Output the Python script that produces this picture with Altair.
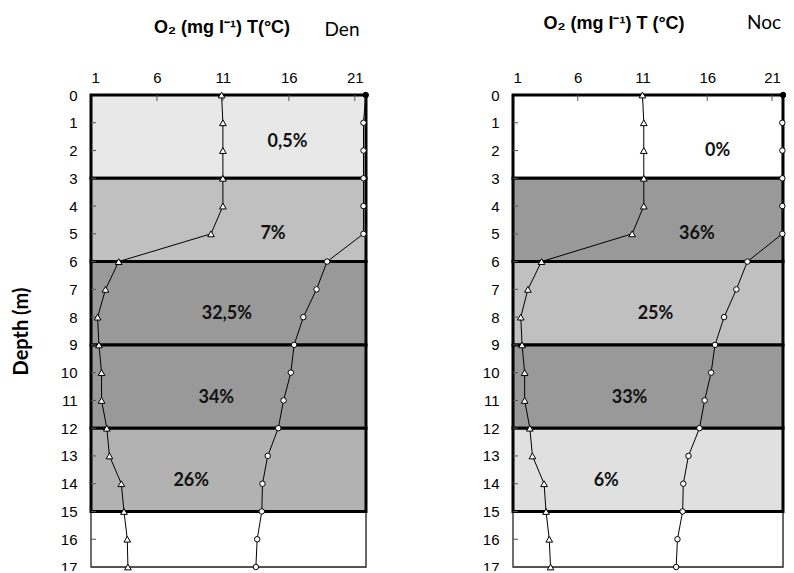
import altair as alt
import pandas as pd

# ---- data ----
depth = list(range(18))
den_o2 = [10.9, 11.0, 11.0, 11.0, 11.0, 10.1, 3.1, 2.1, 1.5, 1.6, 1.8, 1.8, 2.2, 2.4, 3.3, 3.5, 3.75, 3.8]
den_t = [21.83, 21.66, 21.66, 21.66, 21.66, 21.66, 18.9, 18.1, 17.1, 16.4, 16.15, 15.6, 15.2, 14.4, 14.0, 13.95, 13.6, 13.5]
noc_o2 = [11.0, 11.1, 11.1, 11.1, 11.1, 10.2, 3.2, 2.15, 1.6, 1.7, 1.9, 1.9, 2.3, 2.5, 3.4, 3.55, 3.8, 3.9]
noc_t = [21.86, 21.8, 21.8, 21.8, 21.8, 21.8, 19.1, 18.25, 17.3, 16.6, 16.3, 15.8, 15.4, 14.55, 14.15, 14.1, 13.7, 13.6]

band_top = [0, 3, 6, 9, 12]
band_bottom = [3, 6, 9, 12, 15]
den_colors = ["#e8e8e8", "#c0c0c0", "#999999", "#999999", "#b2b2b2"]
noc_colors = ["#ffffff", "#999999", "#c0c0c0", "#999999", "#e0e0e0"]
den_labels = ["0,5%", "7%", "32,5%", "34%", "26%"]
den_label_x = [15.9, 14.8, 11.3, 10.5, 8.6]
den_label_y = [1.7, 5.0, 7.9, 10.9, 13.9]
noc_labels = ["0%", "36%", "25%", "33%", "6%"]
noc_label_x = [16.8, 15.2, 12.0, 10.0, 8.2]
noc_label_y = [2.0, 5.0, 7.9, 10.9, 13.9]

x_ticks = [1, 6, 11, 16, 21]
y_ticks = list(range(18))
x_title = "O\u2082 (mg l\u207b\u00b9) T(\u00b0C)"
x_title_noc = "O\u2082 (mg l\u207b\u00b9) T (\u00b0C)"

H = 472
XS = alt.Scale(domain=[1, 21.85], nice=False, zero=False)
YS = alt.Scale(domain=[0, 17], reverse=True, nice=False, zero=False)
AXFONT = "Liberation Sans"


def panel(W, o2, t, colors, labels, lx, ly, title_text, title_dx, title_dy,
          name, name_dx, name_dy, ytitle):
    prof = pd.DataFrame({"depth": depth, "o2": o2, "t": t})
    bands = pd.DataFrame({"top": band_top, "bottom": band_bottom, "color": colors,
                          "label": labels, "lx": lx, "ly": ly})
    frame = pd.DataFrame({"top": [0], "bottom": [17]})
    xt = pd.DataFrame({"v": x_ticks[1:]})
    yt = pd.DataFrame({"v": y_ticks[1:]})

    yaxis = alt.Axis(values=y_ticks, labelFont=AXFONT, labelFontSize=15, labelColor="black",
                     labelPadding=14, ticks=False, domain=False, grid=False,
                     title=ytitle if ytitle else "",
                     titleFont="Lato", titleFontSize=20, titleFontWeight="bold",
                     titleColor="black", titlePadding=29)
    xaxis = alt.Axis(values=x_ticks, orient="top", labelFont=AXFONT, labelFontSize=15,
                     labelColor="black", labelPadding=10, ticks=False, domain=False,
                     grid=False, title="")

    def X(f):
        return alt.X(f, scale=XS, axis=xaxis)

    def Y(f):
        return alt.Y(f, scale=YS, axis=yaxis)

    frame_l = alt.Chart(frame).mark_rect(fill="white", stroke="#222", strokeWidth=1.3).encode(
        x=alt.value(0), x2=alt.value(W), y=Y("top:Q"), y2="bottom:Q")
    band_l = alt.Chart(bands).mark_rect(stroke="black", strokeWidth=3).encode(
        x=alt.value(0), x2=alt.value(W), y=Y("top:Q"), y2="bottom:Q",
        fill=alt.Color("color:N", scale=None))
    ytick_l = alt.Chart(yt).mark_rule(color="#555", strokeWidth=1).encode(
        x=alt.value(0), x2=alt.value(5), y=Y("v:Q"))
    xtick_l = alt.Chart(xt).mark_rule(color="#555", strokeWidth=1).encode(
        y=alt.value(0), y2=alt.value(6), x=X("v:Q"))

    o2_line = alt.Chart(prof).mark_line(color="black", strokeWidth=1).encode(
        x=X("o2:Q"), y=Y("depth:Q"), order="depth:Q")
    t_line = alt.Chart(prof).mark_line(color="black", strokeWidth=1).encode(
        x=X("t:Q"), y=Y("depth:Q"), order="depth:Q")
    o2_pts = alt.Chart(prof).mark_point(shape="triangle-up", filled=True, fill="white",
                                        stroke="black", strokeWidth=1, size=45, opacity=1).encode(
        x=X("o2:Q"), y=Y("depth:Q"))
    t_pts = alt.Chart(prof).mark_point(shape="circle", filled=True, stroke="black",
                                       strokeWidth=1, size=30, opacity=1).encode(
        x=X("t:Q"), y=Y("depth:Q"),
        fill=alt.condition(alt.datum.depth == 0, alt.value("black"), alt.value("white")))
    lab = alt.Chart(bands).mark_text(font="Lato", fontSize=18, fontWeight="bold",
                                     color="#111").encode(
        x=X("lx:Q"), y=Y("ly:Q"), text="label:N")
    ttl = alt.Chart(pd.DataFrame({"s": [title_text]})).mark_text(
        font=AXFONT, fontSize=18, fontWeight="bold", color="black", clip=False).encode(
        x=alt.value(title_dx), y=alt.value(title_dy), text="s:N")
    nm = alt.Chart(pd.DataFrame({"s": [name]})).mark_text(
        font="Lato", fontSize=19, color="black", clip=False).encode(
        x=alt.value(name_dx), y=alt.value(name_dy), text="s:N")

    return alt.layer(frame_l, band_l, ytick_l, xtick_l, o2_line, t_line, o2_pts, t_pts,
                     lab, ttl, nm).properties(width=W, height=H)


left = panel(275, den_o2, den_t, den_colors, den_labels, den_label_x, den_label_y,
             x_title, 131, -66.7, "Den", 251, -64.7, "Depth (m)")
right = panel(270, noc_o2, noc_t, noc_colors, noc_labels, noc_label_x, noc_label_y,
              x_title_noc, 101, -70.7, "Noc", 251, -72, None)

chart = alt.hconcat(left, right, spacing=110).properties(
    padding={"top": 5, "left": 2, "right": -3, "bottom": -5}
).configure_view(stroke=None).configure(background="white")

chart.save("out.html", embed_options={"renderer": "svg", "actions": False})
